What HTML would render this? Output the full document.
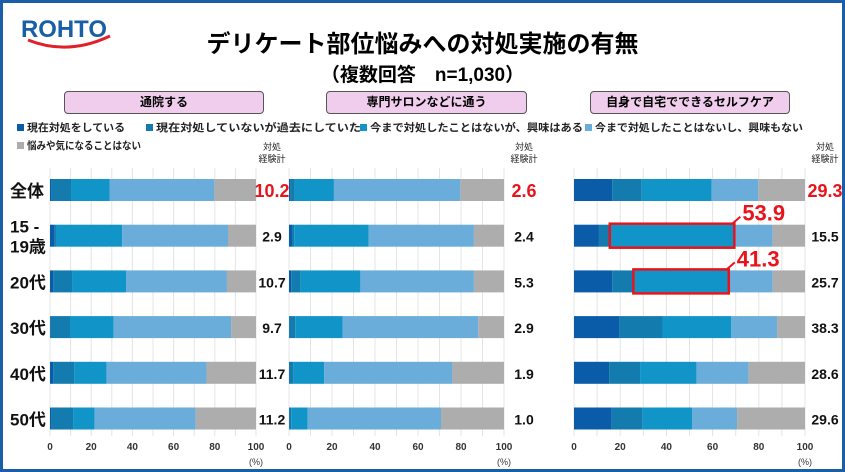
<!DOCTYPE html>
<html><head><meta charset="utf-8">
<style>
body{margin:0;width:845px;height:472px;overflow:hidden;background:#fff;font-family:"Liberation Sans","Noto Sans CJK JP",sans-serif;}
#frame{position:absolute;left:0;top:0;width:839px;height:466px;border:3px solid #1a5ea8;}
.t{position:absolute;white-space:nowrap;}
.pill{position:absolute;height:21px;background:#f0cdec;border:1.5px solid #555;border-radius:4px;font-size:12px;font-weight:bold;text-align:center;line-height:21px;}
</style></head><body>
<div id="frame"></div>
<svg class="t" style="left:18px;top:10px" width="100" height="45">
<text x="3" y="27" font-family="Liberation Sans" font-weight="bold" font-size="24" fill="#1a5ea8" textLength="86" lengthAdjust="spacingAndGlyphs">ROHTO</text>
<path d="M10 30 Q50 46 92 26" stroke="#e0202a" stroke-width="3" fill="none"/>
</svg>
<div class="t" style="left:0;width:845px;text-align:center;top:24px;font-size:24px;font-weight:bold;">デリケート部位悩みへの対処実施の有無</div>
<div class="t" style="left:0;width:845px;text-align:center;top:60px;font-size:19px;font-weight:bold;">（複数回答　n=1,030）</div>
<div class="pill" style="left:64px;width:198px;top:91px">通院する</div>
<div class="pill" style="left:326px;width:199px;top:91px">専門サロンなどに通う</div>
<div class="pill" style="left:590px;width:198px;top:91px">自身で自宅でできるセルフケア</div>
<svg id="chart" class="t" style="left:0;top:0" width="845" height="472"></svg>
<script>
const categories=["全体","15 -\n19歳","20代","30代","40代","50代"];
const seriesNames=["現在対処をしている","現在対処していないが過去にしていた","今まで対処したことはないが、興味はある","今まで対処したことはないし、興味もない","悩みや気になることはない"];
const clinicValues=[[0.5,9.7,18.7,50.9,20.2],[2.3,0.6,32.1,51.4,13.6],[1.5,9.2,26.2,49.0,14.1],[0.3,9.4,21.2,57.0,12.1],[1.5,10.2,15.7,48.6,24.0],[0.5,10.7,10.5,49.0,29.3]];
const salonValues=[[0.5,2.1,18.3,58.8,20.3],[1.4,1.0,34.7,48.9,14.0],[1.0,4.3,27.9,52.8,14.0],[0.3,2.6,22.1,63.0,12.0],[0.4,1.5,14.5,59.6,24.0],[0.3,0.7,7.7,62.0,29.3]];
const selfValues=[[16.5,12.8,30.3,20.2,20.2],[10.8,4.7,53.9,16.6,14.0],[16.5,9.2,41.3,19.0,14.0],[19.5,18.8,29.8,19.8,12.1],[15.2,13.4,24.4,22.6,24.4],[16.3,13.3,21.5,19.5,29.4]];
const clinicTotals=["10.2","2.9","10.7","9.7","11.7","11.2"];
const salonTotals=["2.6","2.4","5.3","2.9","1.9","1.0"];
const selfTotals=["29.3","15.5","25.7","38.3","28.6","29.6"];
const tickLabels=[0,20,40,60,80,100];
const highlightRows=[1,2];
const colors=["#0a5ca8","#137bae","#1195c8","#6aacda","#adadad"];
const NS="http://www.w3.org/2000/svg";
const svg=document.getElementById('chart');
function mk(tag,attrs,parent){const e=document.createElementNS(NS,tag);for(const k in attrs)e.setAttribute(k,attrs[k]);(parent||svg).appendChild(e);return e;}
const rowY=i=>190+i*45.7;
const BH=22;
// legend
const legX=[17,146,360,585,17],legY=[131,131,131,131,149],legW=[98,205,213,208,114];
seriesNames.forEach((n,i)=>{
 const r=mk('rect',{x:legX[i],y:legY[i]-7,width:7,height:7,fill:colors[i]});
 
 
 const t=mk('text',{x:legX[i]+10,y:legY[i],'font-size':10.5,'font-weight':'bold',fill:'#222',textLength:legW[i],lengthAdjust:'spacingAndGlyphs'});t.textContent=n;
 
 
});
// category labels
categories.forEach((c,i)=>{
 const lines=c.split("\n");
 lines.forEach((l,j)=>{
  const t=mk('text',{x:10,y:rowY(i)+7+(j-(lines.length-1)/2)*20,'font-size':17,'font-weight':'bold',fill:'#111'});t.textContent=l;
  
  
 });
});
function panel(x0,x1,vals,totals,totX,key){
 const sx=v=>x0+(x1-x0)*v/100;
 for(let g=0;g<=100;g+=10){const l=mk('line',{x1:sx(g),x2:sx(g),y1:168,y2:436,stroke:'#e4e4e4','stroke-width':1});
  }
 tickLabels.forEach(tv=>{const t=mk('text',{x:sx(tv),y:450,'font-size':10,'font-weight':'bold','text-anchor':'middle',fill:'#333'});t.textContent=tv;
  });
 const p=mk('text',{x:sx(100),y:465,'font-size':9,'text-anchor':'middle',fill:'#333'});p.textContent="(%)";
 
 [["対処",150],["経験計",162]].forEach(([s,y])=>{const t=mk('text',{x:totX,y:y,'font-size':9,'text-anchor':'middle',fill:'#222'});t.textContent=s;
  });
 vals.forEach((row,i)=>{
  let c=0;
  row.forEach((v,k)=>{
   const r=mk('rect',{x:sx(c),y:rowY(i)-BH/2,width:sx(c+v)-sx(c),height:BH,fill:colors[k]});
   
   
   c+=v;
  });
  const t=mk('text',{x:totX,y:rowY(i)+(i==0?7:6),'font-size':i==0?18:14,'font-weight':'bold','text-anchor':'middle',fill:i==0?'#e8141b':'#111'});
  t.textContent=totals[i];
  
  
 });
 return sx;
}
panel(50,256,clinicValues,clinicTotals,272,'clinic');
panel(289,504,salonValues,salonTotals,524,'salon');
const sx3=panel(574,805,selfValues,selfTotals,825,'self');
highlightRows.forEach(i=>{
 const row=selfValues[i];const a=row[0]+row[1],b=a+row[2];
 const r=mk('rect',{x:sx3(a),y:rowY(i)-12,width:sx3(b)-sx3(a),height:24,fill:'none',stroke:'#e8141b','stroke-width':2.5});
 
 
 const l=mk('line',{x1:sx3(b)-2,y1:rowY(i)-12,x2:sx3(b)+6,y2:rowY(i)-19,stroke:'#e8141b','stroke-width':2});
 
 
 const t=mk('text',{x:sx3(b)+8,y:rowY(i)-15,'font-size':22,'font-weight':'bold',fill:'#e8141b'});
 t.textContent=row[2].toFixed(1);
 
 
});
</script>
</body></html>
